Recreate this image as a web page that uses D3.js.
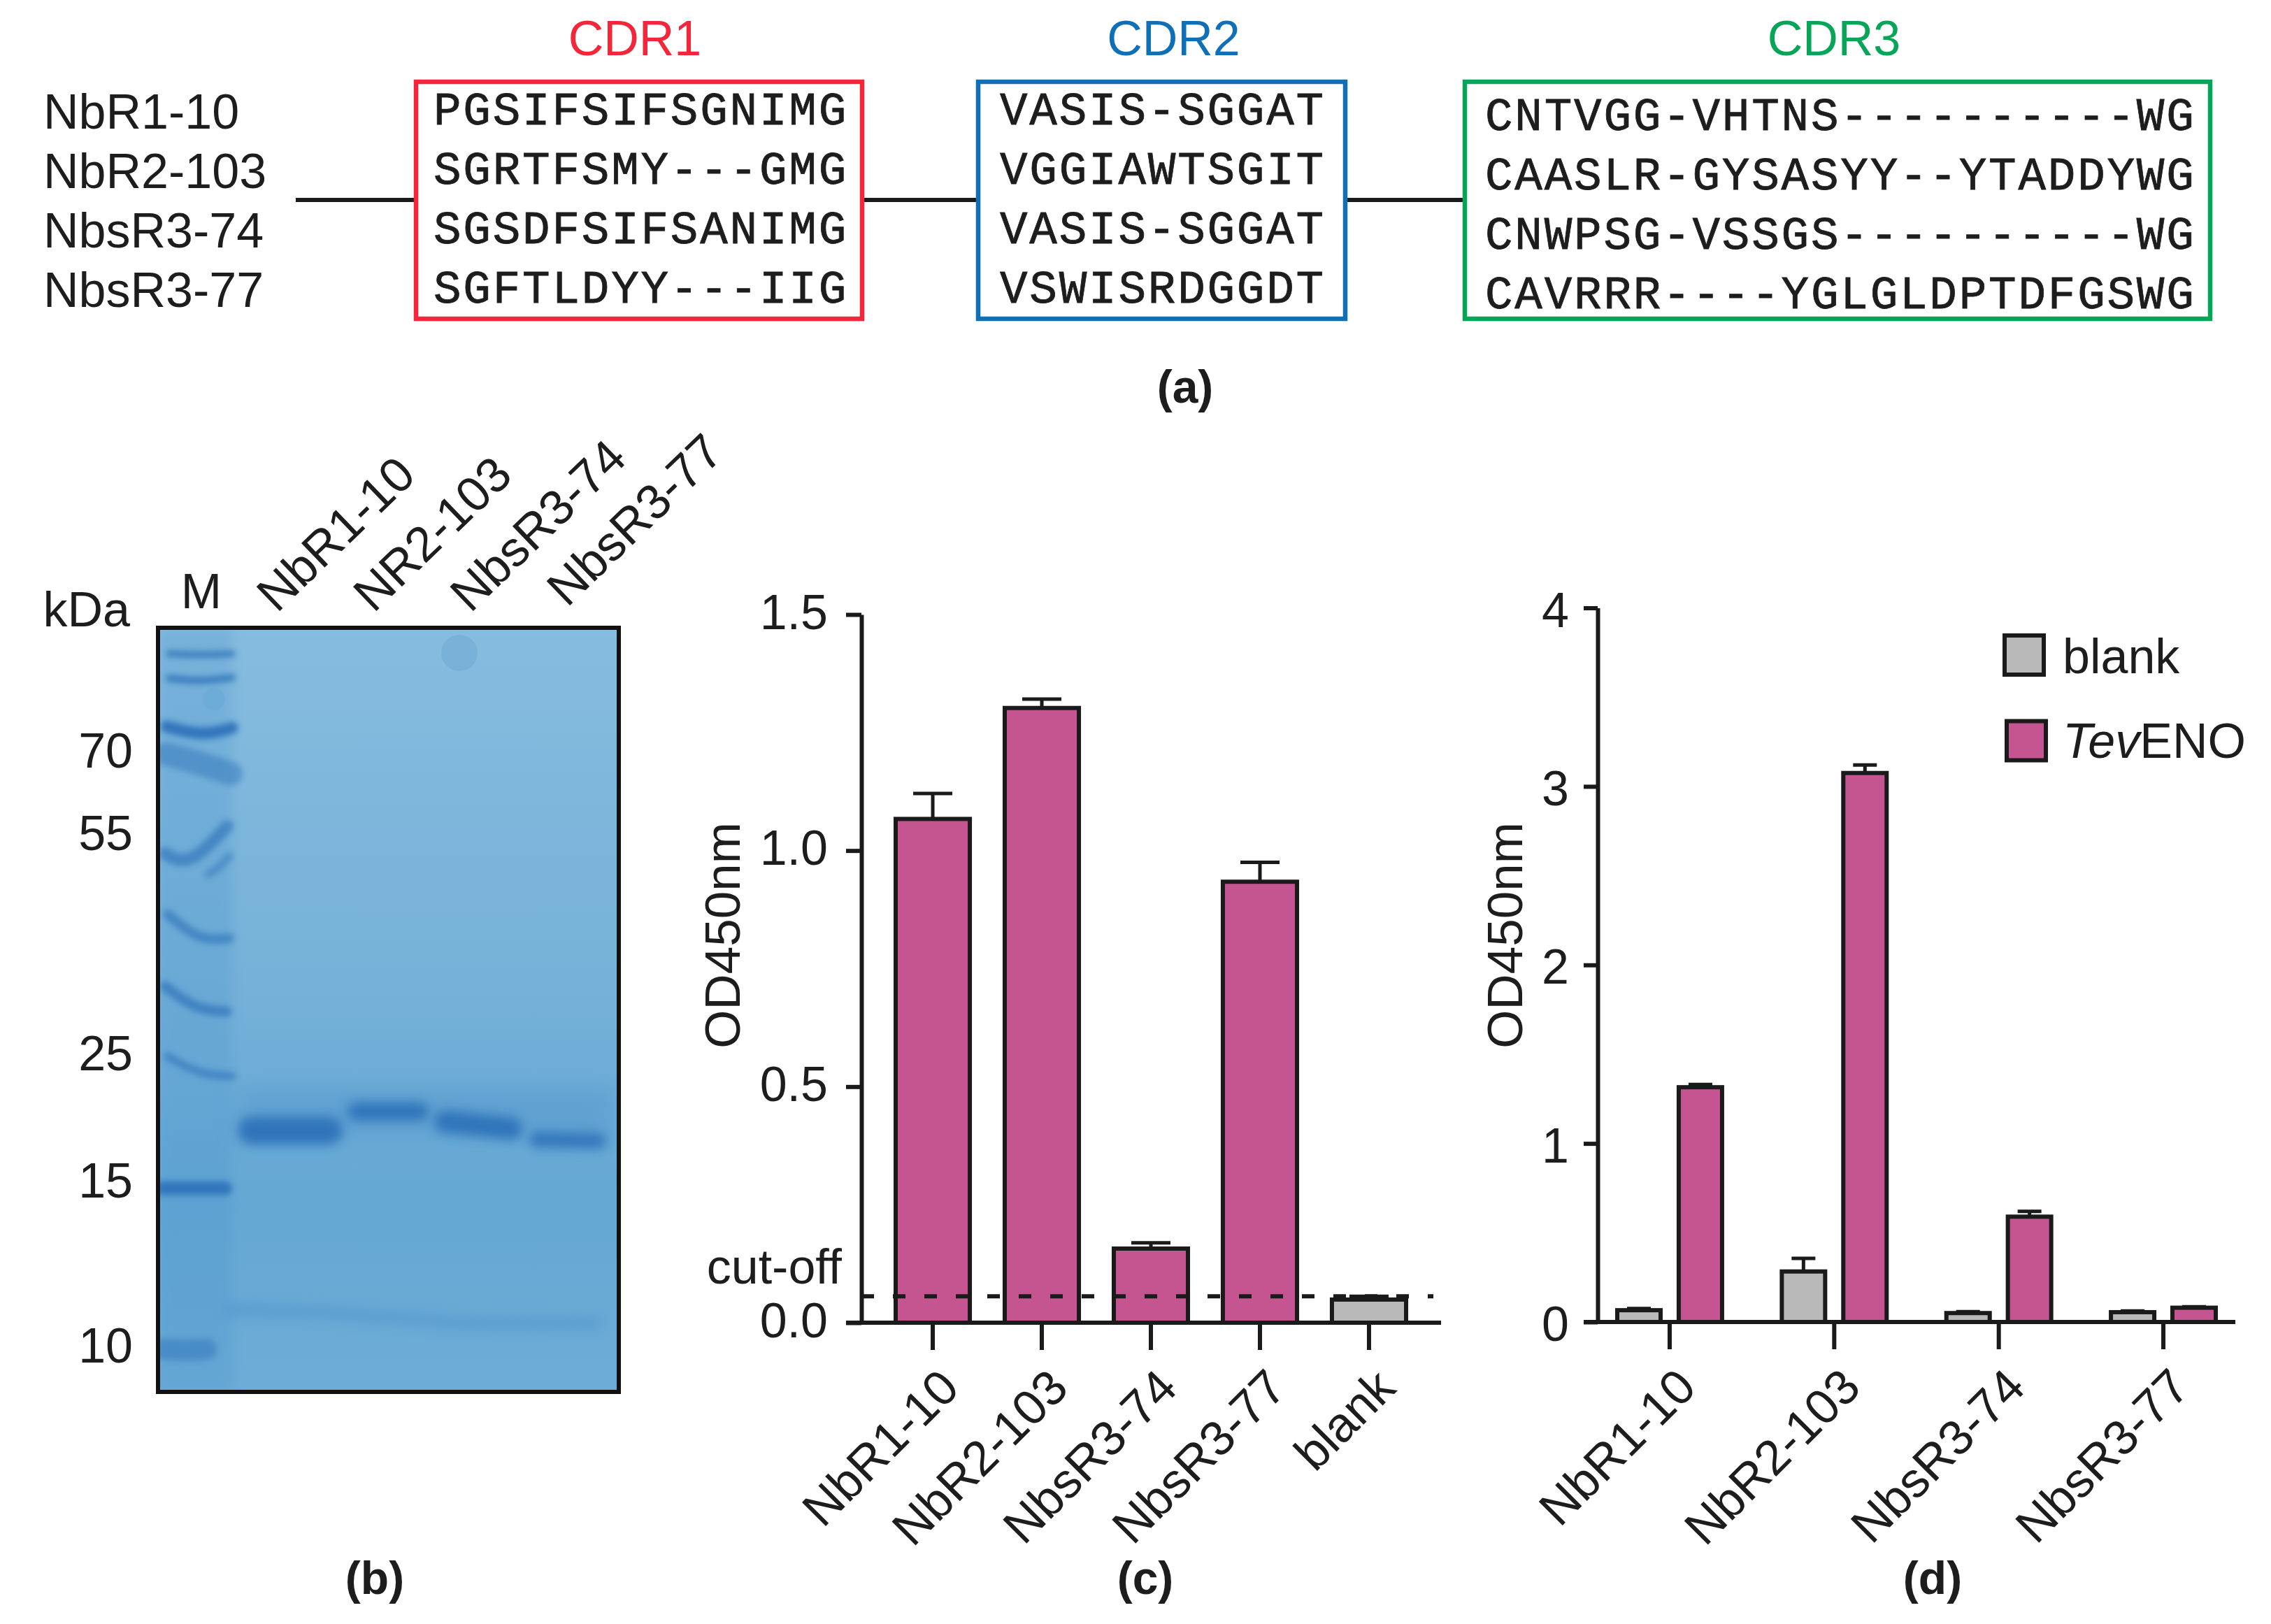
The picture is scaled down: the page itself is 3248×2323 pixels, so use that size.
<!DOCTYPE html>
<html>
<head>
<meta charset="utf-8">
<script src="https://cdn.jsdelivr.net/npm/d3@7"></script>
<style>
  html, body { margin: 0; padding: 0; background: #fff; }
  text { font-family: "Liberation Sans", Arial, sans-serif; fill: #1d1d1d; }
  .seq { font-family: "Liberation Mono", monospace; font-size: 66px; letter-spacing: 2.75px; stroke: #1d1d1d; stroke-width: 0.8px; }
</style>
</head>
<body>
<div id="chart"></div>
<script>
// panel a
const cloneNames = ['NbR1-10', 'NbR2-103', 'NbsR3-74', 'NbsR3-77'];
const cdr1Seqs = ['PGSIFSIFSGNIMG', 'SGRTFSMY---GMG', 'SGSDFSIFSANIMG', 'SGFTLDYY---IIG'];
const cdr2Seqs = ['VASIS-SGGAT', 'VGGIAWTSGIT', 'VASIS-SGGAT', 'VSWISRDGGDT'];
const cdr3Seqs = ['CNTVGG-VHTNS----------WG', 'CAASLR-GYSASYY--YTADDYWG', 'CNWPSG-VSSGS----------WG', 'CAVRRR----YGLGLDPTDFGSWG'];

// panel b, band positions read as kDa against the ladder labels
const laneNames = ['NbR1-10', 'NR2-103', 'NbsR3-74', 'NbsR3-77'];
const kdaLabels = [70, 55, 25, 15, 10];
const ladderKda = [92.8, 86.2, 74.4, 67.8, 50.3, 47.4, 37.5, 29, 22.9, 14.7, 9.9];
const sampleKda = [18.3, 19.75, 18.7, 17.6];
const faintKda = 10.8;

// panel c
const cCategories = ['NbR1-10', 'NbR2-103', 'NbsR3-74', 'NbsR3-77', 'blank'];
const cValues = [1.067, 1.302, 0.157, 0.934, 0.049];
const cErrors = [0.054, 0.019, 0.012, 0.041, 0.007];
const cTicks = [0, 0.5, 1.0, 1.5];
const cutOff = 0.056;

// panel d
const dCategories = ['NbR1-10', 'NbR2-103', 'NbsR3-74', 'NbsR3-77'];
const dSeries = ['blank', 'TevENO'];
const dBlank = [0.066, 0.283, 0.05, 0.055];
const dBlankErr = [0.009, 0.073, 0.008, 0.007];
const dTev = [1.315, 3.075, 0.59, 0.08];
const dTevErr = [0.015, 0.045, 0.03, 0.005];
const dTicks = [0, 1, 2, 3, 4];

const PINK = '#c45591';
const GREY = '#b9b9b9';
const INK = '#1a1a1a';
const FS = 70;

const svg = d3.select('#chart').append('svg')
  .attr('width', 3248)
  .attr('height', 2323)
  .style('display', 'block');

const defs = svg.append('defs');
[['blurS', 4], ['blurM', 8], ['blurL', 18]].forEach(([id, sd]) => {
  // user space units, a flat band has an empty bounding box
  defs.append('filter').attr('id', id)
    .attr('filterUnits', 'userSpaceOnUse')
    .attr('x', 0).attr('y', 0).attr('width', 3248).attr('height', 2323)
    .append('feGaussianBlur').attr('stdDeviation', sd);
});
const gelGrad = defs.append('linearGradient').attr('id', 'gelGrad')
  .attr('x1', 0).attr('y1', 0).attr('x2', 0).attr('y2', 1);
gelGrad.append('stop').attr('offset', '0%').attr('stop-color', '#86bcdf');
gelGrad.append('stop').attr('offset', '50%').attr('stop-color', '#74b0d8');
gelGrad.append('stop').attr('offset', '75%').attr('stop-color', '#65a8d4');
gelGrad.append('stop').attr('offset', '100%').attr('stop-color', '#6dacd6');

function label(x, y, txt, opts = {}) {
  return svg.append('text')
    .attr('x', x)
    .attr('y', y)
    .attr('text-anchor', opts.anchor || 'start')
    .attr('font-size', opts.size || FS)
    .attr('font-weight', opts.weight || 'normal')
    .style('fill', opts.color || null)
    .text(txt);
}

// ---- panel a ----
const rowScale = d3.scalePoint().domain(d3.range(4)).range([178, 432.5]);

cloneNames.forEach((n, i) => label(62, rowScale(i) + 6, n));

[[423, 595], [1233, 1399], [1924, 2095]].forEach(([x1, x2]) => {
  svg.append('line')
    .attr('x1', x1).attr('x2', x2)
    .attr('y1', 286).attr('y2', 286)
    .attr('stroke', INK).attr('stroke-width', 6);
});

const cdrBoxes = [
  { name: 'CDR1', seqs: cdr1Seqs, x0: 595, x1: 1233, textX: 620, drop: 0, color: '#f4263a' },
  { name: 'CDR2', seqs: cdr2Seqs, x0: 1399, x1: 1924, textX: 1430, drop: 0, color: '#0f70b7' },
  { name: 'CDR3', seqs: cdr3Seqs, x0: 2095, x1: 3161, textX: 2124, drop: 8, color: '#06a557' }
];
cdrBoxes.forEach(b => {
  svg.append('rect')
    .attr('x', b.x0).attr('y', 117)
    .attr('width', b.x1 - b.x0).attr('height', 339)
    .attr('fill', 'none')
    .attr('stroke', b.color).attr('stroke-width', 6.5);
  label((b.x0 + b.x1) / 2 + (b.name === 'CDR1' ? -6 : b.name === 'CDR2' ? 17 : -5), 79, b.name, { anchor: 'middle', color: b.color });
  svg.selectAll(null)
    .data(b.seqs)
    .enter()
    .append('text')
    .attr('class', 'seq')
    .attr('x', b.textX)
    .attr('y', (d, i) => rowScale(i) + b.drop)
    .text(d => d);
});
label(1695, 576, '(a)', { anchor: 'middle', weight: 'bold', size: 66 });

// ---- panel b ----
const gel = { x: 226, y: 898, w: 659, h: 1093 };
const kdaY = d3.scaleLog().domain(kdaLabels).range([1073, 1191, 1506, 1688, 1924]);
const bandLine = d3.line().curve(d3.curveBasis);

defs.append('clipPath').attr('id', 'gelClip')
  .append('rect').attr('x', gel.x).attr('y', gel.y).attr('width', gel.w).attr('height', gel.h);
const gelG = svg.append('g').attr('clip-path', 'url(#gelClip)');
gelG.append('rect')
  .attr('x', gel.x).attr('y', gel.y).attr('width', gel.w).attr('height', gel.h)
  .attr('fill', 'url(#gelGrad)');
// marker lane is a bit darker than the rest
gelG.append('rect')
  .attr('x', gel.x).attr('y', gel.y).attr('width', 106).attr('height', gel.h)
  .attr('fill', '#3f8ccb').attr('opacity', 0.2).attr('filter', 'url(#blurM)');

// shape of each ladder band: x, y offset from the band, thickness
const ladderShapes = [
  { pts: [[242, 0], [290, 2], [332, 0]], sw: 9, op: 0.8 },
  { pts: [[242, -1], [285, 4], [332, -2]], sw: 10, op: 0.8 },
  { pts: [[238, -4], [290, 10], [332, -2]], sw: 17, op: 0.9 },
  { pts: [[238, -10], [290, 4], [330, 18]], sw: 34, op: 0.45 },
  { pts: [[236, -6], [270, 14], [325, -45]], sw: 18, op: 0.6 },
  { pts: [[298, 0], [312, -8], [328, -26]], sw: 11, op: 0.5 },
  { pts: [[240, -36], [285, 2], [328, -2]], sw: 14, op: 0.6 },
  { pts: [[236, -36], [280, -2], [324, 0]], sw: 15, op: 0.65 },
  { pts: [[240, -26], [285, 0], [332, 2]], sw: 11, op: 0.6 },
  { pts: [[232, 0], [280, 0], [322, 0]], sw: 20, op: 0.85 },
  { pts: [[232, 0], [265, 2], [295, 0]], sw: 30, op: 0.45 }
];
gelG.selectAll('.ladder')
  .data(ladderKda)
  .enter()
  .append('path')
  .attr('class', 'ladder')
  .attr('d', (d, i) => bandLine(ladderShapes[i].pts.map(p => [p[0], kdaY(d) + p[1]])))
  .attr('fill', 'none')
  .attr('stroke', '#2a6fb8')
  .attr('stroke-width', (d, i) => ladderShapes[i].sw)
  .attr('stroke-linecap', 'round')
  .attr('opacity', (d, i) => ladderShapes[i].op)
  .attr('filter', 'url(#blurS)');

const laneSpans = [[348, 482], [498, 612], [625, 743], [756, 868]];
const laneTilt = [0, 0, 10, 2];
const laneThick = [40, 26, 32, 22];
// glow above the protein bands
gelG.append('rect')
  .attr('x', 340).attr('y', 1555).attr('width', 540).attr('height', 70)
  .attr('fill', '#3f85c6').attr('opacity', 0.28).attr('filter', 'url(#blurL)');
gelG.selectAll('.sample')
  .data(sampleKda)
  .enter()
  .append('path')
  .attr('class', 'sample')
  .attr('d', (d, i) => d3.line()([
    [laneSpans[i][0] + 12, kdaY(d) - laneTilt[i] / 2],
    [laneSpans[i][1] - 12, kdaY(d) + laneTilt[i] / 2]
  ]))
  .attr('fill', 'none')
  .attr('stroke', '#2a70b8')
  .attr('stroke-width', (d, i) => laneThick[i])
  .attr('stroke-linecap', 'round')
  .attr('opacity', 0.9)
  .attr('filter', 'url(#blurM)');

// faint low band
gelG.append('path')
  .attr('d', bandLine([320, 440, 540, 650, 860].map((x, i) => [x, kdaY(faintKda) + [-6, -4, 4, 14, 12][i]])))
  .attr('fill', 'none')
  .attr('stroke', '#4a8fca')
  .attr('stroke-width', 20)
  .attr('opacity', 0.4)
  .attr('filter', 'url(#blurM)');

// air bubbles on the gel
gelG.append('circle').attr('cx', 657).attr('cy', 934).attr('r', 26).attr('fill', '#6fa9d4').attr('opacity', 0.55);
gelG.append('circle').attr('cx', 306).attr('cy', 1000).attr('r', 16).attr('fill', '#66a8d6').attr('opacity', 0.5);

svg.append('rect')
  .attr('x', gel.x).attr('y', gel.y).attr('width', gel.w).attr('height', gel.h)
  .attr('fill', 'none').attr('stroke', '#111').attr('stroke-width', 6);

label(186, 896, 'kDa', { anchor: 'end' });
label(288, 870, 'M', { anchor: 'middle' });
kdaLabels.forEach(k => label(190, kdaY(k) + 25, k, { anchor: 'end' }));

const laneStart = d3.scalePoint().domain(laneNames).range([396, 811]);
laneNames.forEach((n, i) => {
  svg.append('text')
    .attr('transform', `translate(${laneStart(n)},${i === 3 ? 870 : 878}) rotate(-44)`)
    .attr('font-size', FS)
    .text(n);
});
label(536, 2280, '(b)', { anchor: 'middle', weight: 'bold', size: 66 });

// ---- shared axis helpers ----
function styleAxis(g) {
  g.selectAll('path, line').attr('stroke', INK).attr('stroke-width', 6);
  g.selectAll('text').attr('font-size', FS).style('font-family', null);
}
function rotateTicks(g) {
  g.selectAll('text')
    .attr('font-size', FS)
    .attr('text-anchor', 'end')
    .attr('dy', 0)
    .attr('y', 0)
    .attr('transform', 'translate(41,97) rotate(-45)');
}
function yTitle(x, y) {
  svg.append('text')
    .attr('transform', `translate(${x},${y}) rotate(-90)`)
    .attr('text-anchor', 'middle')
    .attr('font-size', 71)
    .text('OD450nm');
}
function errorBars(g, rows, capW) {
  // rows: {x, top, base}
  g.selectAll(null).data(rows).enter().append('line')
    .attr('x1', d => d.x).attr('x2', d => d.x)
    .attr('y1', d => d.base).attr('y2', d => d.top)
    .attr('stroke', INK).attr('stroke-width', 5);
  g.selectAll(null).data(rows).enter().append('line')
    .attr('x1', d => d.x - capW / 2).attr('x2', d => d.x + capW / 2)
    .attr('y1', d => d.top).attr('y2', d => d.top)
    .attr('stroke', INK).attr('stroke-width', 5);
}

// ---- panel c ----
const cX = d3.scaleBand().domain(cCategories).range([1281, 2011]).paddingInner(0.32).paddingOuter(0);
const cY = d3.scaleLinear().domain([0, 1.5]).range([1892, 879]);
const cG = svg.append('g');

errorBars(cG, cCategories.map((c, i) => ({
  x: cX(c) + cX.bandwidth() / 2,
  top: cY(cValues[i] + cErrors[i]),
  base: cY(cValues[i])
})), 56);

cG.selectAll('.bar')
  .data(cCategories.map((c, i) => ({ c, v: cValues[i] })))
  .enter()
  .append('rect')
  .attr('class', 'bar')
  .attr('x', d => cX(d.c))
  .attr('y', d => cY(d.v))
  .attr('width', cX.bandwidth())
  .attr('height', d => cY(0) - cY(d.v))
  .attr('fill', d => d.c === 'blank' ? GREY : PINK)
  .attr('stroke', INK)
  .attr('stroke-width', 6);

cG.append('line')
  .attr('x1', 1232).attr('x2', 2050)
  .attr('y1', cY(cutOff)).attr('y2', cY(cutOff))
  .attr('stroke', INK).attr('stroke-width', 6)
  .attr('stroke-dasharray', '18 27');

cG.append('g')
  .attr('transform', 'translate(1232,0)')
  .call(d3.axisLeft(cY).tickValues(cTicks).tickFormat(d3.format('.1f')).tickSize(22).tickSizeOuter(0).tickPadding(26))
  .call(styleAxis)
  .call(g => g.selectAll('text').attr('dy', '0.29em'));
cG.append('g')
  .attr('transform', `translate(0,${cY(0)})`)
  .call(d3.axisBottom(cX).tickSize(39).tickSizeOuter(0))
  .call(styleAxis)
  .call(rotateTicks)
  .call(g => g.select('.domain').remove());
cG.append('line')
  .attr('x1', 1210).attr('x2', 2061)
  .attr('y1', cY(0)).attr('y2', cY(0))
  .attr('stroke', INK).attr('stroke-width', 6);

yTitle(1058, 1338);
label(1204, 1836, 'cut-off', { anchor: 'end' });
label(1638, 2280, '(c)', { anchor: 'middle', weight: 'bold', size: 66 });

// ---- panel d ----
const dX = d3.scaleBand().domain(dCategories).range([2313, 3169]).paddingInner(0.363).paddingOuter(0);
const dInner = d3.scaleBand().domain(dSeries).range([0, dX.bandwidth()]).paddingInner(0.295).paddingOuter(0);
const dY = d3.scaleLinear().domain([0, 4]).range([1891, 869.5]);
const dG = svg.append('g');
const dColor = d3.scaleOrdinal().domain(dSeries).range([GREY, PINK]);

dSeries.forEach((s, k) => {
  const vals = k === 0 ? dBlank : dTev;
  const errs = k === 0 ? dBlankErr : dTevErr;
  errorBars(dG, dCategories.map((c, i) => ({
    x: dX(c) + dInner(s) + dInner.bandwidth() / 2,
    top: dY(vals[i] + errs[i]),
    base: dY(vals[i])
  })), 34);
  dG.selectAll(null)
    .data(dCategories.map((c, i) => ({ c, v: vals[i] })))
    .enter()
    .append('rect')
    .attr('x', d => dX(d.c) + dInner(s))
    .attr('y', d => dY(d.v))
    .attr('width', dInner.bandwidth())
    .attr('height', d => dY(0) - dY(d.v))
    .attr('fill', dColor(s))
    .attr('stroke', INK)
    .attr('stroke-width', 6);
});

dG.append('g')
  .attr('transform', 'translate(2285,0)')
  .call(d3.axisLeft(dY).tickValues(dTicks).tickFormat(d3.format('d')).tickSize(20).tickSizeOuter(0).tickPadding(21))
  .call(styleAxis)
  .call(g => g.selectAll('text').attr('dy', '0.38em'));
dG.append('g')
  .attr('transform', `translate(0,${dY(0)})`)
  .call(d3.axisBottom(dX).tickSize(39).tickSizeOuter(0))
  .call(styleAxis)
  .call(rotateTicks)
  .call(g => g.select('.domain').remove());
dG.append('line')
  .attr('x1', 2265).attr('x2', 3197)
  .attr('y1', dY(0)).attr('y2', dY(0))
  .attr('stroke', INK).attr('stroke-width', 6);

yTitle(2177, 1338);
label(2764, 2280, '(d)', { anchor: 'middle', weight: 'bold', size: 66 });

// legend
const legendY = d3.scalePoint().domain(dSeries).range([909, 1031.5]);
dSeries.forEach(s => {
  svg.append('rect')
    .attr('x', s === 'blank' ? 2867 : 2870).attr('y', legendY(s))
    .attr('width', 56).attr('height', 56)
    .attr('fill', dColor(s))
    .attr('stroke', INK).attr('stroke-width', 6);
});
label(2950, 963, 'blank');
const tevLabel = label(2950, 1084, '');
tevLabel.append('tspan').attr('font-style', 'italic').text('Tev');
tevLabel.append('tspan').text('ENO');
</script>
</body>
</html>
